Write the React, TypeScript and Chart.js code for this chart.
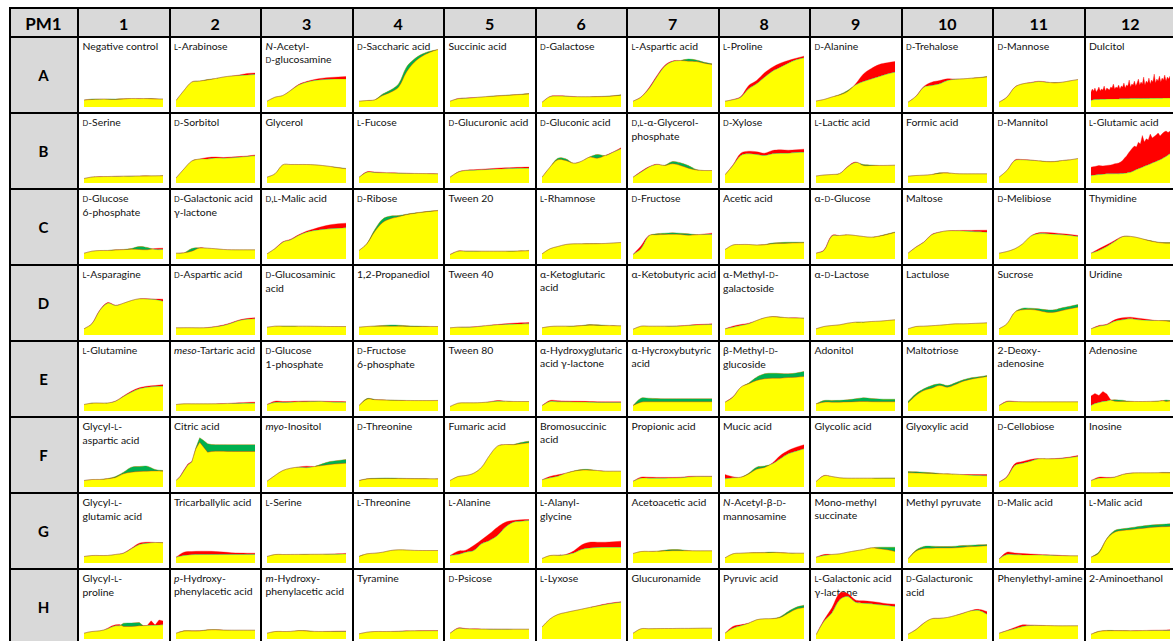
import React, { useEffect, useRef } from 'react';
import { Chart, registerables } from 'chart.js';

Chart.register(...registerables);

// ---------- DATA ----------
const plateName = 'PM1';
const rowLetters = ['A', 'B', 'C', 'D', 'E', 'F', 'G', 'H'];
const colNumbers = ['1', '2', '3', '4', '5', '6', '7', '8', '9', '10', '11', '12'];

// {D}/{L} = small capitals, *x* = italic, \n = line break
const namesA = ['Negative control', '{L}-Arabinose', '*N*-Acetyl-\n{D}-glucosamine', '{D}-Saccharic acid', 'Succinic acid', '{D}-Galactose', '{L}-Aspartic acid', '{L}-Proline', '{D}-Alanine', '{D}-Trehalose', '{D}-Mannose', 'Dulcitol'];
const namesB = ['{D}-Serine', '{D}-Sorbitol', 'Glycerol', '{L}-Fucose', '{D}-Glucuronic acid', '{D}-Gluconic acid', '{D},{L}-α-Glycerol-\nphosphate', '{D}-Xylose', '{L}-Lactic acid', 'Formic acid', '{D}-Mannitol', '{L}-Glutamic acid'];
const namesC = ['{D}-Glucose\n6-phosphate', '{D}-Galactonic acid\nγ-lactone', '{D},{L}-Malic acid', '{D}-Ribose', 'Tween 20', '{L}-Rhamnose', '{D}-Fructose', 'Acetic acid', 'α-{D}-Glucose', 'Maltose', '{D}-Melibiose', 'Thymidine'];
const namesD = ['{L}-Asparagine', '{D}-Aspartic acid', '{D}-Glucosaminic\nacid', '1,2-Propanediol', 'Tween 40', 'α-Ketoglutaric\nacid', 'α-Ketobutyric acid', 'α-Methyl-{D}-\ngalactoside', 'α-{D}-Lactose', 'Lactulose', 'Sucrose', 'Uridine'];
const namesE = ['{L}-Glutamine', '*meso*-Tartaric acid', '{D}-Glucose\n1-phosphate', '{D}-Fructose\n6-phosphate', 'Tween 80', 'α-Hydroxyglutaric\nacid γ-lactone', 'α-Hycroxybutyric\nacid', 'β-Methyl-{D}-\nglucoside', 'Adonitol', 'Maltotriose', '2-Deoxy-\nadenosine', 'Adenosine'];
const namesF = ['Glycyl-{L}-\naspartic acid', 'Citric acid', '*myo*-Inositol', '{D}-Threonine', 'Fumaric acid', 'Bromosuccinic\nacid', 'Propionic acid', 'Mucic acid', 'Glycolic acid', 'Glyoxylic acid', '{D}-Cellobiose', 'Inosine'];
const namesG = ['Glycyl-{L}-\nglutamic acid', 'Tricarballylic acid', '{L}-Serine', '{L}-Threonine', '{L}-Alanine', '{L}-Alanyl-\nglycine', 'Acetoacetic acid', '*N*-Acetyl-β-{D}-\nmannosamine', 'Mono-methyl\nsuccinate', 'Methyl pyruvate', '{D}-Malic acid', '{L}-Malic acid'];
const namesH = ['Glycyl-{L}-\nproline', '*p*-Hydroxy-\nphenylacetic acid', '*m*-Hydroxy-\nphenylacetic acid', 'Tyramine', '{D}-Psicose', '{L}-Lyxose', 'Glucuronamide', 'Pyruvic acid', '{L}-Galactonic acid\nγ-lactone', '{D}-Galacturonic\nacid', 'Phenylethyl-amine', '2-Aminoethanol'];

// Kinetic curves, strain 1 (red where higher) and strain 2 (green where higher)
const redA = [
  [7, 7.5, 8, 7.8, 7.5, 8, 8.5, 8.5, 8.3, 8, 8],
  [6.5, 16.5, 25, 26, 27, 28.5, 30, 31, 32, 33.5, 34],
  [5.8, 9.8, 11.5, 16.8, 22.5, 25.5, 27.5, 28.8, 29.5, 30, 30.5],
  [5.8, 6.5, 7.2, 11.5, 14.8, 19.8, 34.8, 44.8, 50.8, 54.8, 57.5],
  [5.8, 8.5, 9, 9.5, 10, 10.5, 11, 11.5, 12, 12.5, 13],
  [4.8, 10.5, 11.2, 11, 10.5, 10.3, 10.3, 10.3, 10.5, 11, 11.8],
  [5.8, 10, 19, 31, 41.5, 46, 46.5, 45.8, 45.5, 43.8, 42.5],
  [5.8, 7.5, 10.5, 21.5, 26.5, 34.2, 39.8, 43.8, 46.5, 48.8, 50.8],
  [6, 7.5, 10, 12, 15.5, 23, 33, 38.5, 42.5, 44.2, 45.5],
  [4.8, 10.8, 20.5, 24.8, 26.5, 28.2, 28, 28.2, 28.8, 29.3, 30],
  [4.8, 10, 20, 23.2, 24.5, 25.8, 25, 24, 24.8, 26.2, 27.5],
  [15, 18, 16, 19, 15, 17, 20, 16, 18, 17, 21, 16, 19, 18, 17, 20, 19, 23, 18, 20, 19, 22, 18, 21, 20, 24, 19, 22, 21, 27, 20, 23, 22, 26, 21, 24, 28, 22, 25, 23, 30, 22, 26, 24, 29, 23, 27, 25, 33, 24, 28, 26, 31, 25, 29, 27, 32, 26, 30, 28, 31],
];
const greenA = [
  [7, 8, 7.8, 8, 8, 8.2, 8.5, 8.3, 8.5, 8.3, 8],
  [6.5, 16.5, 25, 26, 27.5, 28.5, 30, 31, 31.5, 32, 32.5],
  [5.8, 9.8, 11.5, 16.5, 22, 24.8, 26.5, 27.3, 27.8, 28, 28],
  [5.8, 6.5, 7.2, 13, 17, 23, 39.8, 48, 53, 55.8, 57.5],
  [5.8, 8.2, 8.8, 9.3, 10, 10.8, 11.3, 11.8, 12.3, 12.8, 13.5],
  [4.8, 10.3, 11, 10.8, 10.3, 10.3, 10.3, 10.5, 10.8, 11.3, 12.2],
  [5.8, 9.8, 18, 29.8, 40.5, 45.5, 46.5, 48, 47, 44.8, 43.2],
  [5.8, 7.2, 9.8, 18.2, 23.2, 29.8, 35.8, 39.8, 43.8, 47.2, 49.2],
  [6, 7.5, 10, 12.5, 16.5, 22, 25.5, 28, 30.5, 33, 34.8],
  [4.8, 10.5, 19.8, 21.5, 23.2, 26.5, 27.8, 28.2, 28.8, 29.5, 30.5],
  [4.8, 9.8, 19.8, 23.2, 24.2, 25.5, 24.8, 24.5, 24.8, 26.2, 27.5],
  [6.5, 7, 7.3, 7.5, 7.5, 7.6, 7.6, 7.7, 7.7, 7.8, 7.8, 7.8, 7.9, 7.9, 8, 8, 8, 8, 8.1, 8.1, 8.1, 8.1, 8.2, 8.2, 8.2, 8.2, 8.3, 8.3, 8.3, 8.3, 8.4, 8.4, 8.4, 8.4, 8.4, 8.5, 8.5, 8.5, 8.5, 8.5, 8.6, 8.6, 8.6, 8.6, 8.6, 8.7, 8.7, 8.7, 8.7, 8.7, 8.8, 8.8, 8.8, 8.8, 8.8, 8.9, 8.9, 8.9, 8.9, 9, 9],
];

const redB = [
  [4.5, 6, 6.5, 6.5, 6.8, 6.8, 7, 7, 7, 7.2, 7.2],
  [5, 14, 22, 24, 25.5, 26, 25.5, 26, 26.5, 27, 28],
  [5.8, 9.2, 18.2, 18.5, 18.5, 18.5, 18.2, 17.5, 16.5, 15.2, 14.2],
  [5.8, 11.2, 11, 10.6, 10.2, 10, 9.8, 9.6, 9.5, 9.4, 9.3],
  [5.8, 11, 12.8, 13.2, 13.8, 14.3, 14.8, 15.2, 15.5, 15.7, 15.9],
  [5.8, 15.8, 23.2, 22.5, 19.8, 21.8, 25.8, 24.8, 27.5, 31, 35.2],
  [5.8, 11.5, 16.2, 18.8, 17.5, 19.2, 17.5, 14.8, 13, 12.5, 12.5],
  [8.2, 18, 29.8, 31.8, 31.2, 29.8, 32.5, 33.2, 32.8, 33.2, 33.8],
  [7, 8, 8.5, 9.5, 16.5, 21, 17.5, 17.5, 17.5, 17.6, 17.8],
  [6.8, 7.5, 7.8, 8.5, 9.6, 10, 9.4, 9.2, 9.2, 9.2, 9.2],
  [5.8, 12.5, 23, 23.5, 23, 22.2, 21.3, 21.3, 22.5, 23.2, 24.5],
  [15.8, 16.2, 16.5, 17, 17.5, 17.2, 17, 17.3, 17.5, 17.8, 18, 18.5, 19.2, 19.5, 20, 21, 22.5, 25, 27, 30, 32.5, 35, 37, 36, 40.8, 39, 47.5, 41, 44.2, 43, 49, 45, 46.5, 48, 50, 47, 49.2, 51, 52, 50.5, 51.8],
];
const greenB = [
  [4.5, 6, 6.3, 6.5, 6.5, 6.8, 6.8, 7, 7.2, 7.2, 7.5],
  [5, 14, 22, 24, 24, 25, 24.8, 25.2, 25.8, 26.5, 27.2],
  [5.8, 9.2, 18.2, 18.5, 18.5, 18.5, 18.2, 17.5, 16.6, 15.5, 14.6],
  [5.8, 10.8, 10.5, 10.2, 10, 9.8, 9.6, 9.5, 9.4, 9.3, 9.2],
  [5.8, 10.8, 12.5, 12.8, 13.2, 13.6, 14, 14.3, 14.5, 14.7, 14.8],
  [5.8, 15.8, 24.8, 24.2, 19.8, 21.8, 26, 28.5, 27.5, 30.8, 34.2],
  [5.8, 10.8, 15.8, 18.5, 17.8, 21.5, 20.2, 17.5, 13.5, 12.5, 12.5],
  [8.2, 17.5, 27.5, 29.2, 28.5, 27.5, 29.2, 29.8, 29.8, 30.5, 30.8],
  [7, 8, 8.5, 9.5, 16, 20.5, 18.5, 18, 17.6, 17.6, 17.8],
  [6.8, 7.5, 7.8, 8.5, 10.2, 10.2, 9.4, 9.2, 9.2, 9.2, 9.2],
  [5.8, 12.5, 22.5, 23.2, 22.8, 22.2, 21.6, 21.6, 22.5, 23.2, 24.5],
  [7.5, 7.8, 8, 8.2, 8.5, 8.6, 8.8, 9, 9.2, 9.2, 9.2, 9.2, 9.3, 9.3, 9.2, 9.4, 9.5, 9.8, 10, 10.4, 10.8, 11.5, 12.5, 13.4, 14.2, 15, 15.8, 16.7, 17.5, 18.3, 19.1, 20, 20.8, 21.6, 22.5, 23.3, 24.2, 25.4, 26.6, 27.9, 29.2],
];

const redC = [
  [5.8, 7.8, 8.5, 8.5, 9, 9.3, 9.8, 9.5, 9.2, 10.5, 10.8],
  [5.8, 6.2, 7.8, 11, 10.8, 10.3, 9.6, 9.3, 9.2, 9.2, 9.2],
  [5.2, 10.5, 17.2, 19.8, 24.2, 27.8, 30.2, 32.5, 34.2, 35.2, 35.8],
  [8.5, 15.2, 27.5, 36.5, 40.3, 42.2, 44.3, 45.6, 46.7, 47.6, 48.3],
  [4.5, 8, 8, 8, 7.8, 7.8, 7.8, 7.8, 7.8, 8, 8.2],
  [5.2, 10.2, 12.5, 14.5, 15.2, 15.2, 15.2, 15.3, 15.5, 16, 16.5],
  [4.5, 13, 23.5, 24.2, 24.5, 24.7, 24.5, 23.8, 24.2, 25, 25.8],
  [9.5, 14, 14.5, 14.5, 14, 14.2, 15.2, 15.5, 15.8, 16, 16.2],
  [5.8, 9, 23.5, 23.5, 24.2, 23.5, 22.5, 21.8, 22.8, 24.5, 26.5],
  [5.8, 12, 17, 24.5, 27, 28.3, 28.5, 28.6, 28.6, 28.7, 28.8],
  [5.8, 7.5, 10.2, 15.2, 22.8, 26.2, 26.5, 26, 25.2, 24.5, 23.5],
  [5.8, 10.2, 14.2, 18.5, 22.5, 22.6, 21.2, 19, 17.2, 16, 15.8],
];
const greenC = [
  [5.8, 7.8, 8.5, 8.6, 9.3, 9.6, 10.5, 12.5, 11.5, 9.5, 9.5],
  [5.8, 6.2, 10.5, 11.2, 10.8, 10.2, 9.5, 9.2, 9.2, 9.2, 9.2],
  [5.2, 10.2, 16.8, 19.2, 23.5, 26.8, 28.5, 29.5, 30.2, 30.8, 31.2],
  [8.5, 15.5, 29.5, 40, 43, 43.5, 44.8, 46, 47, 47.9, 48.6],
  [4.5, 7.8, 7.8, 7.8, 7.8, 7.8, 7.8, 7.8, 7.9, 8.2, 8.6],
  [5.2, 10.2, 12.5, 14.5, 15.2, 15.3, 15.4, 15.4, 15.6, 16.1, 16.6],
  [4.5, 10.2, 23, 25.2, 25.8, 26.2, 25.8, 25.2, 24.4, 24.5, 24.5],
  [9.5, 14, 14.5, 14.5, 14, 14.4, 16, 16.5, 16.8, 16.8, 16.8],
  [5.8, 8.5, 22.8, 23.5, 24.2, 23.5, 22.5, 21.8, 23, 25, 27],
  [5.8, 11.8, 16.8, 24.2, 26.8, 28.2, 28.2, 28, 27.5, 27.2, 26.8],
  [5.8, 7.5, 10.2, 15.2, 22.8, 25.2, 25.2, 24.8, 24.2, 23.5, 22.5],
  [5.8, 8.5, 12.5, 17.5, 22.3, 22.6, 21.2, 19.2, 17.6, 16.5, 16.4],
];

const redD = [
  [6.2, 11.5, 25, 32.5, 29.8, 31.8, 34.5, 36.3, 36.3, 36, 35.8],
  [7.2, 7.3, 7.3, 7.2, 7.5, 8.5, 10, 12.3, 15, 16.5, 17.2],
  [7.8, 8.8, 8.8, 8.8, 8.8, 8.8, 8.7, 8.6, 8.5, 8.5, 8.5],
  [7.8, 8.5, 8.8, 8.8, 8.8, 8.8, 8.6, 8.5, 8.5, 8.5, 8.5],
  [7.2, 7.8, 8, 8.2, 9, 9.8, 10.5, 11.2, 11.8, 12.2, 12.5],
  [7.2, 8.5, 8.8, 8.8, 8.8, 9.3, 9.8, 9.6, 9.4, 9.3, 9.2],
  [5.8, 8.8, 8.8, 8.8, 8.8, 8.9, 9.2, 9.8, 10.4, 10.8, 11.2],
  [6.2, 8.8, 10.5, 11.8, 14.5, 17.2, 18.3, 17.8, 17.3, 17.2, 16.9],
  [6.2, 8.5, 9.5, 10.2, 11.8, 12.8, 12.8, 13.5, 13.8, 14.5, 15.2],
  [6.2, 8.5, 8.8, 9.3, 9.8, 10.5, 11.2, 11.2, 11.5, 11.8, 12.2],
  [6.2, 11.2, 22.8, 25.2, 25.5, 24.5, 22.8, 22.8, 24.5, 26.2, 27.8],
  [6.2, 9.5, 10.8, 15.2, 17.2, 17.8, 16.8, 15.8, 14.7, 14.3, 13.5],
];
const greenD = [
  [6.2, 11.2, 24.5, 31.8, 29.5, 31.8, 34.5, 36.2, 36, 35.5, 33.8],
  [7.2, 7.3, 7.3, 7.2, 7.3, 8.2, 9.5, 11.8, 14.5, 15.8, 16.2],
  [7.8, 8.8, 8.9, 8.9, 8.8, 8.8, 8.7, 8.6, 8.5, 8.5, 8.4],
  [7.8, 8.5, 9, 9.5, 10, 9.8, 9.3, 9, 8.8, 8.6, 8.5],
  [7.2, 7.8, 7.8, 8, 8.8, 9.5, 10.2, 10.6, 10.8, 11, 11.2],
  [7.2, 8.5, 8.8, 8.8, 8.9, 9.5, 10.5, 10.2, 9.8, 9.5, 9.2],
  [5.8, 8.8, 8.8, 8.8, 8.8, 8.8, 9, 9.5, 10, 10.3, 10.5],
  [6.2, 7.8, 9.5, 11.2, 14.5, 17.2, 18.5, 17.9, 17.2, 17, 16.8],
  [6.2, 8.5, 9.5, 10.2, 11.8, 12.8, 12.9, 13.5, 13.8, 14.5, 15.2],
  [6.2, 8.5, 8.8, 9.3, 9.8, 10.5, 11.2, 11.2, 11.5, 11.8, 12.2],
  [6.2, 11.2, 22.8, 26.8, 26.8, 26.2, 25.2, 25.2, 27.2, 28.8, 30.5],
  [6.2, 8.8, 10.2, 13.8, 15.2, 16.2, 15.2, 14.8, 14.5, 14.5, 14.5],
];

const redE = [
  [6.5, 7.8, 7.9, 8, 10, 15, 19.8, 23.2, 24.8, 25.5, 26.2],
  [6.5, 7.2, 7.2, 7.2, 7.2, 7.3, 7.5, 7.8, 8.3, 8.6, 8.8],
  [6.5, 9.8, 9.5, 9.6, 9.8, 10, 10, 9.8, 9.6, 9.5, 9.3],
  [5.5, 11.8, 11.3, 11, 10.8, 10.6, 10.5, 10.4, 10.4, 10.4, 10.5],
  [4.5, 7.8, 8.2, 8.2, 8.4, 9.2, 10.5, 9.8, 9.5, 9.5, 9.5],
  [5.5, 10.5, 10.3, 10, 9.8, 9.7, 9.5, 9.3, 9.2, 9.2, 9.2],
  [5.5, 8.8, 9.2, 9.2, 9.2, 9.2, 9.2, 9.2, 9.2, 9.2, 9.2],
  [8.8, 14.2, 23.8, 27.2, 30.5, 32.2, 32.8, 32.8, 33.5, 33.8, 34.5],
  [7.2, 8.8, 8.8, 8.8, 9, 9.3, 9.5, 9.3, 9.2, 9.2, 9.2],
  [8, 15.5, 20.5, 22.8, 25.5, 23.8, 26.5, 29.8, 31.8, 33.2, 34.5],
  [5.5, 9.8, 9.6, 9.3, 9.2, 9.2, 9.2, 9.2, 9.2, 9.2, 9.2],
  [15, 17.5, 15.5, 19.5, 17, 11, 9.8, 9.6, 9.6, 9.6, 9.5, 9.5, 9.5, 9.5, 9.5, 9.6, 9.6, 9.8, 10.5, 9.6, 10],
];
const greenE = [
  [6.5, 8, 8, 8, 9.8, 14.5, 18.8, 22.2, 23.8, 24.5, 24.8],
  [6.5, 7.2, 7.2, 7.2, 7.2, 7.2, 7.3, 7.5, 7.6, 7.7, 7.8],
  [6.5, 8.5, 8.5, 8.8, 9.2, 9.3, 9.5, 9.6, 9, 8.8, 8.8],
  [5.5, 12.4, 11.6, 11.2, 10.9, 10.7, 10.6, 10.5, 10.5, 10.5, 10.6],
  [4.5, 7.8, 8.2, 8.2, 8.5, 9, 9.8, 9.8, 9.6, 9.5, 9.5],
  [5.5, 9.5, 9.2, 9.2, 9, 8.9, 8.8, 8.6, 8.5, 8.5, 8.5],
  [5.5, 12.8, 12.8, 12.4, 12.2, 12.2, 12.2, 12.2, 12.2, 12.2, 12.2],
  [8.8, 13.8, 23.8, 28, 33.8, 37.2, 37.8, 37.5, 37.2, 38, 39.5],
  [7.2, 10.5, 10.6, 10.7, 11.2, 12.2, 13.2, 12.5, 12, 11.8, 11.8],
  [9.5, 17.2, 22.2, 25.5, 27.2, 25.5, 28.2, 31.2, 33.2, 34.2, 35.5],
  [5.5, 9.3, 9.3, 9.2, 9.2, 9.2, 9.2, 9.2, 9.2, 9.2, 9.2],
  [5.5, 7.5, 8.5, 9.5, 10, 11, 11.2, 11, 10.8, 10, 9.8, 9.6, 9.5, 9.5, 9.6, 9.6, 9.8, 10, 10.2, 11, 10.5],
];

const redF = [
  [6.5, 7.5, 7.5, 8.2, 9.5, 13.2, 14.8, 15.5, 15.8, 16, 15.8],
  [6.5, 10.5, 17, 23, 25.5, 38, 44.8, 39.8, 34.8, 35.5, 35.8, 35.8, 35.7, 35.6, 35.6, 35.5, 35.5, 35.5, 35.5, 35.5, 35.5],
  [5.8, 11.5, 16.5, 18.8, 20, 20.8, 20.5, 21.5, 22.5, 23.2, 23.8],
  [6.5, 8, 8.3, 8.5, 8.5, 8.4, 8.3, 8.2, 8.2, 8.2, 8.1],
  [6.5, 10.5, 11.5, 13.8, 19.8, 31.5, 40.8, 42.5, 42.2, 43.2, 44.2],
  [7.2, 10.5, 12.2, 13.8, 15.8, 16.8, 16.8, 16.5, 15.8, 15.8, 15.8],
  [5.8, 9.8, 9.8, 9.6, 9.6, 9.6, 9.8, 10.6, 10.8, 10.8, 10.8],
  [12.5, 10.2, 9.8, 13, 17.8, 19.5, 24, 31.5, 36.5, 39.8, 42.2],
  [5.5, 11.5, 10.5, 9.2, 8.8, 8.8, 8.8, 8.8, 8.8, 8.8, 8.8],
  [14.2, 14, 13.8, 13.5, 13.2, 13, 12.8, 12.5, 12.5, 12.5, 12.5],
  [4.8, 10.5, 23.2, 25.5, 27.5, 28.4, 28.3, 28.4, 29, 30, 31.5],
  [6.5, 9.8, 9.6, 10, 12.6, 13.9, 14.2, 14.2, 14.2, 14.1, 14],
];
const greenF = [
  [6.5, 7.5, 7.6, 8.5, 10.5, 14.8, 19.8, 20.5, 20.8, 17.5, 16.5],
  [6.5, 10, 16, 22, 25, 39, 49.2, 46.5, 43.2, 42.5, 42.3, 42.3, 42.3, 42.2, 42.2, 42.2, 42.2, 42.2, 42.2, 42.2, 42.2],
  [5.8, 11.5, 16.5, 18.8, 19.8, 19.3, 20.5, 23.2, 25.5, 26.5, 27.5],
  [6.5, 8.3, 8.7, 9, 9, 8.8, 8.6, 8.5, 8.4, 8.3, 8.2],
  [6.5, 10.5, 11.5, 13.8, 19.8, 31.5, 40.8, 42.5, 42.5, 44.5, 45.8],
  [7.2, 9.2, 10.8, 13.8, 16, 17.5, 17.6, 16.5, 15.8, 15.8, 15.8],
  [5.8, 8.8, 8.8, 8.8, 8.8, 9, 9.2, 10, 10.4, 10.5, 10.5],
  [8.2, 9.2, 9.8, 13.8, 19.8, 21, 23.2, 28.2, 33.2, 35.8, 38.2],
  [5.5, 11.2, 10.5, 9.2, 8.8, 8.8, 8.8, 8.8, 8.9, 9, 9],
  [15.5, 15.2, 14.8, 14.2, 13.6, 13.2, 12.8, 12.3, 11.8, 11.5, 11.2],
  [4.8, 9.8, 21.5, 23.8, 25.8, 28.2, 28.2, 28.2, 28.6, 29.5, 30.5],
  [6.5, 8.8, 9, 9.8, 12.5, 13.8, 14.2, 14.2, 14.3, 14.6, 14.5],
];

const redG = [
  [6.5, 7.5, 7.5, 7.6, 8.6, 10, 14.8, 19.8, 20.8, 20.6, 20.2],
  [5.8, 10.8, 11.5, 11.8, 11.8, 11.5, 11, 10.3, 10, 9.8, 9.8],
  [6.5, 8.5, 8.5, 8.5, 8.6, 8.6, 8.7, 8.8, 9, 9.3, 9.6],
  [6.5, 9.2, 9.8, 10.8, 12.5, 13.2, 13, 12.6, 12.5, 12.5, 12.5],
  [7.5, 11.8, 12.8, 17.5, 23.2, 29.2, 35.8, 40.8, 42.5, 43.2, 43.5],
  [4.5, 7.5, 7.8, 8.5, 12, 18, 20.8, 20.8, 20.8, 21.2, 21.8],
  [9.5, 11.5, 11.6, 11.7, 12, 12.3, 12.3, 12.2, 12.2, 12.2, 12.2],
  [5.2, 9.2, 9.8, 10.2, 10.2, 10.2, 10.5, 10.2, 9.9, 9.8, 9.8],
  [5.8, 8.5, 8.6, 9.2, 10.8, 12.2, 13.5, 15.2, 14.2, 13.2, 11.5],
  [4.2, 11.8, 14.5, 14.8, 15, 15, 15.2, 15.8, 16.4, 16.8, 17.2],
  [4.2, 10.8, 10, 9.4, 9, 8.6, 8.3, 8, 7.5, 7.3, 7.2],
  [5.8, 10, 24, 30.8, 32.5, 33.2, 34.2, 35, 35.8, 36.2, 36.5],
];
const greenG = [
  [6.5, 7.5, 7.5, 7.5, 8.5, 9.8, 14.2, 18.5, 19.8, 20.5, 20.4],
  [5.8, 7.5, 8.3, 8.5, 8.5, 8.5, 8.5, 8.5, 8.5, 8.5, 8.5],
  [6.5, 8.5, 8.5, 8.6, 8.6, 8.7, 8.7, 8.7, 8.8, 8.8, 8.9],
  [6.8, 9.2, 9.8, 10.8, 12.5, 13.2, 13, 12.6, 12.5, 12.5, 12.5],
  [7.5, 8.5, 10.8, 12.5, 19.2, 22.5, 27.5, 35.8, 40.8, 41.8, 42.5],
  [4.5, 7.5, 7.6, 8.3, 10, 13.5, 15, 15.5, 15.8, 15.8, 15.8],
  [9.5, 11.5, 11.6, 11.8, 12.8, 13.5, 13.3, 12.5, 12.2, 12.2, 12.2],
  [5.2, 9.2, 9.8, 10.2, 10.4, 10.6, 10.9, 10.5, 10, 9.8, 9.8],
  [5.8, 7.5, 8.5, 9.2, 10.8, 12.2, 13.5, 15.2, 15.8, 15.8, 15.8],
  [4.2, 12.8, 16.5, 16.8, 16.5, 16.5, 16.8, 17.5, 17.8, 18.2, 18.5],
  [4.2, 8.5, 8.3, 8.1, 8, 7.9, 7.8, 7.6, 7.3, 7.2, 7.2],
  [5.8, 11, 24.5, 32.5, 34.2, 35.2, 36.5, 37.5, 38.2, 38.7, 39.2],
];

const redH = [
  [5.8, 6.8, 7.5, 7.8, 8.2, 9, 10.8, 13, 14.2, 14.5, 12.5, 12.5, 12.5, 12.8, 13.2, 13.5, 13.5, 18.2, 14, 19, 18],
  [5.8, 8, 8, 8.1, 9, 9.2, 8.9, 8.8, 8.8, 8.8, 8.8],
  [5.8, 7.5, 7.5, 7.6, 8.3, 8, 7.6, 7.6, 7.7, 7.9, 8],
  [5.2, 6.8, 7.5, 7.5, 7.6, 7.8, 8.2, 8.3, 8.4, 8.5, 8.5],
  [5.8, 11, 10.5, 10.2, 10, 10, 9.9, 9.9, 9.8, 9.8, 9.8],
  [12, 20, 24.5, 26.5, 28.2, 29.8, 31.5, 33.2, 35, 36.3, 37.3],
  [5.8, 10.2, 10.3, 10.4, 10.5, 10.5, 10.6, 10.6, 10.7, 10.8, 10.8],
  [5.8, 12.5, 14.2, 15.9, 19.2, 20.2, 20.3, 21.5, 25.8, 29.8, 31.5],
  [4.2, 19, 31, 45.8, 45.5, 39, 38.2, 37.5, 36.5, 35.2, 34.8],
  [4.8, 9.5, 16, 20.3, 20.8, 21.6, 23.6, 26, 28.5, 29.6, 27.5],
  [5.8, 8.5, 11.5, 14.2, 14, 13.7, 13.5, 13.3, 13.2, 13.2, 13.2],
  [4.8, 7.5, 8.2, 8.3, 8.3, 8.3, 8.4, 8.6, 8.8, 8.8, 9.2],
];
const greenH = [
  [5.8, 6.8, 7.5, 7.8, 8.2, 9, 10.2, 12, 13.2, 13.2, 15.8, 16, 16, 16.2, 16.5, 13.3, 13.5, 13.8, 13.8, 14, 14.2],
  [5.8, 8.2, 8.2, 8.3, 9.2, 9.5, 8.9, 8.8, 8.8, 8.8, 8.8],
  [5.8, 7.5, 7.5, 7.6, 8.5, 8.3, 7.6, 7.5, 7.5, 7.5, 7.5],
  [5.2, 6.8, 7.5, 7.5, 7.5, 7.6, 8, 8.2, 8.2, 8.2, 8.2],
  [5.8, 10.5, 10.2, 10, 9.9, 9.8, 9.8, 9.8, 9.8, 9.8, 9.8],
  [12, 20, 24.5, 26.5, 28.2, 29.8, 31.5, 33, 34.5, 35.8, 36.8],
  [5.8, 10.2, 10.3, 10.4, 10.5, 10.5, 10.6, 10.6, 10.7, 10.8, 10.8],
  [5.8, 10.8, 13.2, 15.8, 19.3, 20.3, 20.5, 22.3, 27.5, 31.8, 33.8],
  [4.2, 17.5, 26, 39.2, 42.5, 36.8, 35.8, 35.2, 34.2, 33.5, 32.5],
  [4.8, 9.2, 15.8, 20.2, 20.6, 21.5, 23.5, 25.8, 28.2, 28.5, 24.8],
  [5.8, 8.2, 10.2, 12.5, 13.5, 13.5, 13.4, 13.3, 13.2, 13.3, 13.3],
  [4.8, 7.8, 8.6, 8.5, 8.4, 8.3, 8.3, 8.4, 8.5, 8.6, 8.6],
];

const wellNames = [namesA, namesB, namesC, namesD, namesE, namesF, namesG, namesH];
const redRows = [redA, redB, redC, redD, redE, redF, redG, redH];
const greenRows = [greenA, greenB, greenC, greenD, greenE, greenF, greenG, greenH];
const yMax = 60;

// ---------- STYLE / LAYOUT ----------
const RED = '#ff0000';
const GREEN = '#00b050';
const YELLOW = '#ffff00';
const GRAY = '#d9d9d9';
const FONT = "Lato, 'Open Sans', sans-serif";

const TABLE_LEFT = 9;
const TABLE_TOP = 7;
const COL0_X = 78;
const COL_W = 91.5;
const ROW0_Y = 37;
const ROW_H = 76;
const colX = Array.from({ length: 13 }, (_, i) => COL0_X + i * COL_W);
const rowY = Array.from({ length: 9 }, (_, j) => ROW0_Y + j * ROW_H);

function renderLabel(s: string) {
  return s.split('\n').map((line, i) => (
    <div key={i} style={{ whiteSpace: 'nowrap' }}>
      {line
        .split(/(\{[DL]\}|\*[^*]+\*)/)
        .filter(Boolean)
        .map((part, k) => {
          if (part[0] === '{') return <span key={k} style={{ fontSize: '0.72em' }}>{part[1]}</span>;
          if (part[0] === '*') return <i key={k}>{part.slice(1, -1)}</i>;
          return <React.Fragment key={k}>{part}</React.Fragment>;
        })}
    </div>
  ));
}

function Well({ red, green, left, top }: { red: number[]; green: number[]; left: number; top: number }) {
  const ref = useRef<HTMLCanvasElement | null>(null);
  useEffect(() => {
    const n = Math.max(red.length, green.length);
    const labels = Array.from({ length: n }, (_, i) => String(i));
    const tension = n > 15 ? 0 : 0.35;
    const chart = new Chart(ref.current as HTMLCanvasElement, {
      type: 'line',
      data: {
        labels,
        datasets: [
          {
            data: red,
            fill: { target: '+1', above: RED, below: GREEN },
            borderColor: 'rgba(255,0,0,0.55)',
            borderWidth: 0.6,
            pointRadius: 0,
            tension,
          },
          {
            data: green,
            fill: 'origin',
            backgroundColor: YELLOW,
            borderColor: 'rgba(0,176,80,0.55)',
            borderWidth: 0.6,
            pointRadius: 0,
            tension,
          },
        ],
      } as any,
      options: {
        responsive: false,
        animation: false,
        events: [],
        layout: { padding: 0 },
        plugins: { legend: { display: false }, tooltip: { enabled: false } },
        scales: {
          x: { display: false },
          y: { display: false, min: 0, max: yMax },
        },
      } as any,
    });
    return () => chart.destroy();
  }, []);
  return (
    <canvas
      ref={ref}
      width={79}
      height={60}
      style={{ position: 'absolute', left, top, width: 79, height: 60 }}
    />
  );
}

export default function App() {
  const lines: React.ReactNode[] = [];
  const vx = [TABLE_LEFT + 1, ...colX];
  vx.forEach((x, i) =>
    lines.push(
      <div key={'v' + i} style={{ position: 'absolute', left: Math.round(x) - 1, top: TABLE_TOP, width: 2, height: 700, background: '#000' }} />
    )
  );
  const hy = [TABLE_TOP + 1, ...rowY];
  hy.forEach((y, j) =>
    lines.push(
      <div key={'h' + j} style={{ position: 'absolute', left: TABLE_LEFT, top: Math.round(y) - 1, width: 1300, height: 2, background: '#000' }} />
    )
  );

  const cells: React.ReactNode[] = [];
  rowLetters.forEach((_, j) => {
    colNumbers.forEach((__, i) => {
      const cx = colX[i];
      const cy = rowY[j];
      cells.push(
        <div
          key={`l${j}-${i}`}
          style={{
            position: 'absolute',
            left: cx + 4.5,
            top: cy + 3,
            fontFamily: FONT,
            fontSize: 10.4,
            lineHeight: '13px',
            color: '#111',
          }}
        >
          {renderLabel(wellNames[j][i])}
        </div>
      );
      cells.push(
        <Well
          key={`w${j}-${i}`}
          red={redRows[j][i]}
          green={greenRows[j][i]}
          left={Math.round(cx + 6)}
          top={cy + 10}
        />
      );
    });
  });

  return (
    <div style={{ position: 'absolute', left: 0, top: 0, width: 1173, height: 641, overflow: 'hidden', background: '#fff' }}>
      {/* header background */}
      <div style={{ position: 'absolute', left: TABLE_LEFT, top: TABLE_TOP, width: 1300, height: ROW0_Y - TABLE_TOP, background: GRAY }} />
      {/* row label column background */}
      <div style={{ position: 'absolute', left: TABLE_LEFT, top: ROW0_Y, width: COL0_X - TABLE_LEFT, height: 700, background: GRAY }} />
      {/* header texts */}
      <div
        style={{
          position: 'absolute', left: TABLE_LEFT, top: TABLE_TOP + 1, width: COL0_X - TABLE_LEFT, height: ROW0_Y - TABLE_TOP,
          display: 'flex', alignItems: 'center', justifyContent: 'center',
          fontFamily: FONT, fontWeight: 700, fontSize: 17, color: '#000',
        }}
      >
        {plateName}
      </div>
      {colNumbers.map((c, i) => (
        <div
          key={'c' + i}
          style={{
            position: 'absolute', left: colX[i], top: TABLE_TOP + 1, width: COL_W, height: ROW0_Y - TABLE_TOP,
            display: 'flex', alignItems: 'center', justifyContent: 'center',
            fontFamily: FONT, fontWeight: 700, fontSize: 16, color: '#000',
          }}
        >
          {c}
        </div>
      ))}
      {rowLetters.map((r, j) => (
        <div
          key={'r' + j}
          style={{
            position: 'absolute', left: TABLE_LEFT, top: rowY[j], width: COL0_X - TABLE_LEFT, height: ROW_H,
            display: 'flex', alignItems: 'center', justifyContent: 'center',
            fontFamily: FONT, fontWeight: 700, fontSize: 15, color: '#000',
          }}
        >
          {r}
        </div>
      ))}
      {cells}
      {lines}
    </div>
  );
}
